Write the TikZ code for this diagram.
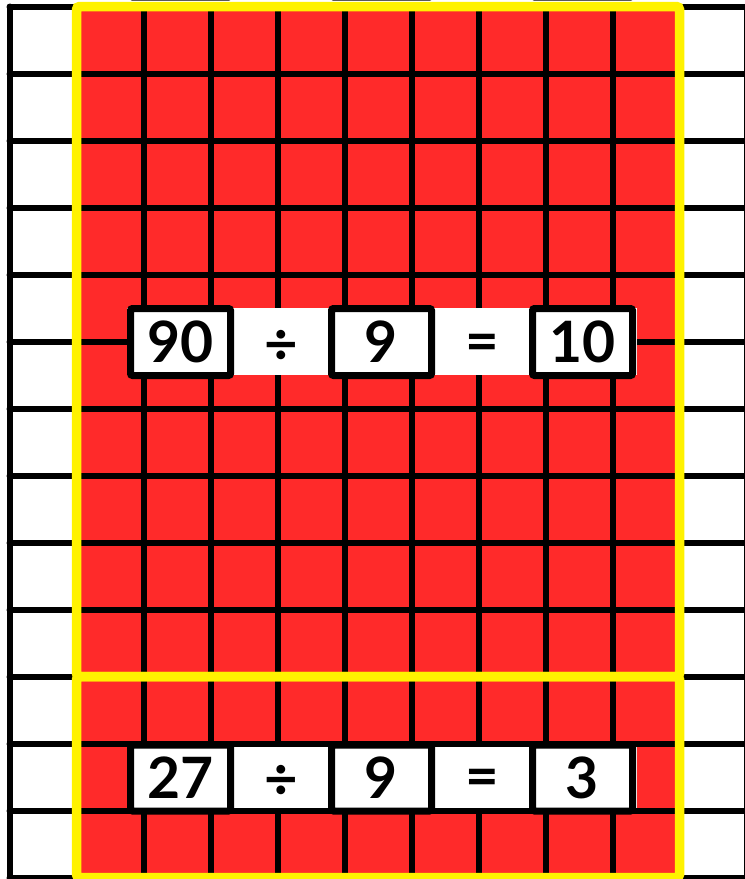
\documentclass[tikz,border=0pt]{standalone}
\usepackage{fontspec}
\setmainfont{Lato}
\definecolor{gridred}{RGB}{255,42,42}
\begin{document}
\begin{tikzpicture}[x=1pt,y=-1pt,
  gridline/.style={line width=6pt, draw=black, line cap=round},
  frame/.style={draw=yellow, line width=9.5pt, rounded corners=3pt},
  numbox/.style={draw=black, fill=white, line width=7pt, minimum width=100pt, minimum height=67pt, inner sep=0pt, rounded corners=2pt, font=\fontsize{57}{60}\selectfont\bfseries},
  sym/.style={inner sep=0pt, font=\fontsize{58}{60}\selectfont\bfseries},
  band/.style={fill=white}]
\useasboundingbox (0,0) rectangle (745,879);
\clip (0,0) rectangle (745,879);
% red area
\fill[gridred] (76.5,6.5) rectangle (679.5,877.5);
% grid
\foreach \i in {0,...,11} \draw[gridline] (9.5+67*\i,6.5) -- (9.5+67*\i,877.5);
\foreach \j in {0,...,13} \draw[gridline] (9.5,6.5+67*\j) -- (746.5,6.5+67*\j);
% yellow frames
\draw[frame] (76.5,6.5) rectangle (679.5,676.5);
\draw[frame] (76.5,676.5) rectangle (679.5,877.5);
% clipped boxes of an equation above the picture
\node[numbox] (ta) at (180.5,-36.5) {};
\node[numbox] (tb) at (381.5,-36.5) {};
\node[numbox] (tc) at (582.5,-36.5) {};
% first equation
\fill[band] (127,308) rectangle (637,375);
\node[numbox] (a1) at (180.5,342) {90};
\node[sym] (d1) at (281,347) {÷};
\node[numbox] (b1) at (381.5,342) {9};
\node[sym] (e1) at (482.5,348) {=};
\node[numbox] (c1) at (582.5,342) {10};
% second equation
\fill[band] (127,746.5) rectangle (637,807.5);
\node[numbox, minimum height=66pt] (a2) at (180.5,778) {27};
\node[sym] (d2) at (281,782) {÷};
\node[numbox, minimum height=66pt] (b2) at (381.5,778) {9};
\node[sym] (e2) at (482.5,783) {=};
\node[numbox, minimum height=66pt] (c2) at (582.5,778) {3};
\end{tikzpicture}
\end{document}
